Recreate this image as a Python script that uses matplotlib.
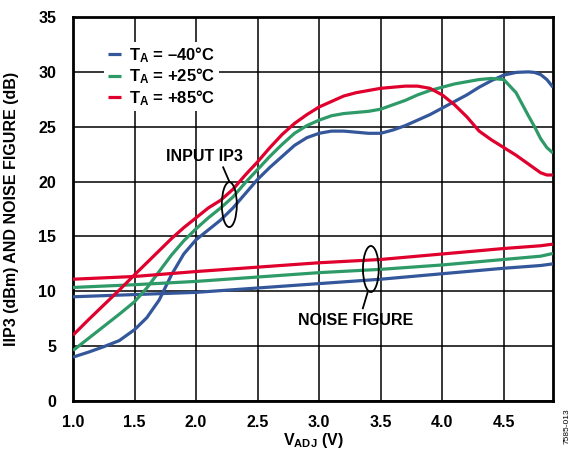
import matplotlib
matplotlib.use("Agg")
import matplotlib.pyplot as plt
from matplotlib.patches import Ellipse

plt.rcParams['font.family'] = ['Liberation Sans', 'DejaVu Sans']
plt.rcParams['font.weight'] = 'bold'
plt.rcParams['mathtext.fontset'] = 'custom'
plt.rcParams['mathtext.rm'] = 'Liberation Sans:bold'
plt.rcParams['mathtext.it'] = 'Liberation Sans:bold'
plt.rcParams['mathtext.bf'] = 'Liberation Sans:bold'

# input IP3 vs V_ADJ
x_ip3 = [1.0, 1.125, 1.25, 1.375, 1.5, 1.6, 1.7, 1.8, 1.9, 2.0, 2.1, 2.2, 2.3, 2.4,
         2.5, 2.6, 2.7, 2.8, 2.9, 3.0, 3.1, 3.2, 3.3, 3.4, 3.5, 3.6, 3.7, 3.8, 3.9,
         4.0, 4.1, 4.2, 4.3, 4.4, 4.5, 4.6, 4.7, 4.75, 4.8, 4.85, 4.9]
ip3_m40 = [4.0, 4.45, 4.95, 5.5, 6.5, 7.6, 9.2, 11.5, 13.4, 14.7, 15.6, 16.5, 17.6, 18.9,
           20.2, 21.3, 22.3, 23.3, 24.0, 24.4, 24.6, 24.6, 24.5, 24.4, 24.4, 24.7, 25.1, 25.6, 26.1,
           26.7, 27.3, 27.9, 28.6, 29.2, 29.7, 29.95, 30.0, 29.95, 29.75, 29.3, 28.6]
ip3_p25 = [4.6, 5.7, 6.8, 7.9, 9.05, 10.3, 11.8, 13.3, 14.6, 15.7, 16.7, 17.6, 18.6, 19.9,
           21.1, 22.3, 23.4, 24.4, 25.1, 25.6, 26.0, 26.2, 26.3, 26.4, 26.6, 27.0, 27.4, 27.9, 28.3,
           28.6, 28.9, 29.1, 29.3, 29.4, 29.3, 28.1, 26.0, 25.0, 23.9, 23.1, 22.6]
ip3_p85 = [6.0, 7.4, 8.75, 10.1, 11.5, 12.6, 13.7, 14.8, 15.8, 16.7, 17.6, 18.3, 19.3, 20.6,
           21.8, 23.1, 24.3, 25.3, 26.1, 26.8, 27.3, 27.8, 28.1, 28.3, 28.5, 28.6, 28.7, 28.7, 28.5,
           27.9, 27.0, 25.9, 24.6, 23.8, 23.1, 22.4, 21.6, 21.2, 20.8, 20.6, 20.6]

# noise figure vs V_ADJ
x_nf = [1.0, 1.5, 2.0, 2.5, 3.0, 3.5, 4.0, 4.5, 4.8, 4.9]
nf_m40 = [9.5, 9.7, 9.9, 10.3, 10.7, 11.1, 11.6, 12.1, 12.35, 12.5]
nf_p25 = [10.35, 10.6, 10.9, 11.3, 11.7, 12.0, 12.4, 12.9, 13.2, 13.45]
nf_p85 = [11.1, 11.35, 11.8, 12.2, 12.6, 12.9, 13.4, 13.9, 14.15, 14.3]

labels = ['$\\mathrm{T_A}$ = \u201340\u00b0C', '$\\mathrm{T_A}$ = +25\u00b0C', '$\\mathrm{T_A}$ = +85\u00b0C']
colors = ['#33579a', '#2e9a68', '#e0002d']

fig = plt.figure(figsize=(5.72, 4.51), dpi=100)
ax = fig.add_axes([73/572, 1-401/451, 480/572, 384/451])

lw = 2.3
for ip3, nf, c, lab in zip([ip3_m40, ip3_p25, ip3_p85], [nf_m40, nf_p25, nf_p85], colors, labels):
    ax.plot(x_ip3, ip3, color=c, lw=lw, label=lab, zorder=3, solid_capstyle='butt')
    ax.plot(x_nf, nf, color=c, lw=lw, zorder=3, solid_capstyle='butt')

ax.set_xlim(1.0, 4.9)
ax.set_ylim(0, 35)
ax.set_xticks([1.0, 1.5, 2.0, 2.5, 3.0, 3.5, 4.0, 4.5])
ax.set_yticks(range(0, 36, 5))
ax.set_xticklabels(['1.0', '1.5', '2.0', '2.5', '3.0', '3.5', '4.0', '4.5'])
ax.grid(True, color='black', lw=1.1, zorder=1)
ax.set_axisbelow(True)
ax.tick_params(length=0, labelsize=11.5)
ax.tick_params(axis='x', pad=10)
ax.tick_params(axis='y', pad=12)
for s in ax.spines.values():
    s.set_linewidth(2.0)

ax.set_xlabel('$\\mathrm{V_{ADJ}}$ (V)', fontsize=11.5, fontweight='bold')
ax.xaxis.set_label_coords(0.5, -0.078)
ax.set_ylabel('IIP3 (dBm) AND NOISE FIGURE (dB)', fontsize=11.5, fontweight='bold')
ax.yaxis.set_label_coords(-0.113, 0.5)

leg = ax.legend(loc='upper left', bbox_to_anchor=(0.065, 0.935), frameon=True,
                fancybox=False, framealpha=1, facecolor='white', edgecolor='none',
                fontsize=12, handlelength=0.8, handletextpad=0.5, labelspacing=0.1,
                borderpad=0.2, borderaxespad=0)
leg.set_zorder(5)

# annotations
ax.add_patch(Ellipse((2.27, 17.9), 0.122, 4.1, fill=False, ec='black', lw=1.3, zorder=4))
ax.plot([2.27, 2.22], [20.0, 21.3], color='black', lw=1.3, zorder=4)
ax.text(2.07, 22.3, 'INPUT IP3', fontsize=11.5, fontweight='bold', ha='center', va='center', zorder=4)

ax.add_patch(Ellipse((3.42, 12.03), 0.128, 4.2, fill=False, ec='black', lw=1.3, zorder=4))
ax.plot([3.393, 3.355], [9.87, 8.45], color='black', lw=1.3, zorder=4)
ax.text(3.30, 7.3, 'NOISE FIGURE', fontsize=11.5, fontweight='bold', ha='center', va='center', zorder=4)

fig.text(0.992, 0.055, '7585-013', rotation=90, fontsize=6, fontweight='normal', ha='center', va='center')

fig.savefig('out.png', dpi=100)
